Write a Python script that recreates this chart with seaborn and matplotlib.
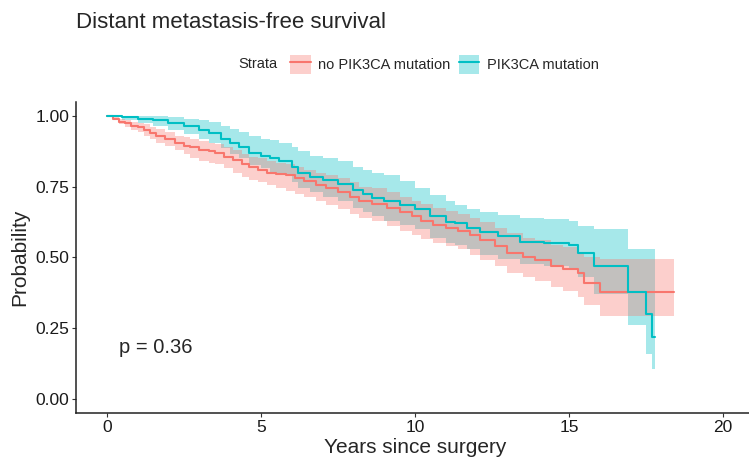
import matplotlib
matplotlib.use("Agg")
import matplotlib.pyplot as plt
import numpy as np
import pandas as pd
import seaborn as sns
from matplotlib.lines import Line2D
from matplotlib.patches import Patch

# no PIK3CA mutation (step curve + 95% CI)
red_time = [0, 0.2, 0.4, 0.6, 0.8, 1.0, 1.2, 1.4, 1.6, 1.9, 2.2, 2.5, 2.7, 3.0, 3.3, 3.5, 3.8,
            4.1, 4.4, 4.6, 4.9, 5.2, 5.5, 5.8, 6.1, 6.4, 6.8, 7.1, 7.5, 7.9, 8.2, 8.6, 9.1, 9.5,
            9.9, 10.2, 10.6, 11.0, 11.4, 11.8, 12.1, 12.6, 13.0, 13.5, 13.9, 14.4, 14.8, 15.3,
            15.5, 16.0, 18.4]
red_surv = [1.0, 0.99, 0.98, 0.975, 0.965, 0.96, 0.95, 0.94, 0.93, 0.92, 0.905, 0.895, 0.89,
            0.88, 0.875, 0.87, 0.855, 0.845, 0.83, 0.82, 0.81, 0.80, 0.795, 0.79, 0.78, 0.77,
            0.755, 0.745, 0.73, 0.715, 0.70, 0.69, 0.675, 0.66, 0.645, 0.63, 0.615, 0.605, 0.595,
            0.58, 0.56, 0.54, 0.515, 0.50, 0.49, 0.47, 0.46, 0.445, 0.41, 0.378, 0.378]
red_low = [1.0, 0.985, 0.97, 0.96, 0.95, 0.945, 0.93, 0.92, 0.905, 0.895, 0.88, 0.865, 0.85,
           0.84, 0.835, 0.83, 0.815, 0.80, 0.785, 0.775, 0.765, 0.755, 0.745, 0.735, 0.725,
           0.715, 0.70, 0.685, 0.67, 0.655, 0.64, 0.63, 0.61, 0.595, 0.58, 0.565, 0.55, 0.54,
           0.53, 0.51, 0.49, 0.47, 0.445, 0.43, 0.415, 0.395, 0.38, 0.36, 0.33, 0.293, 0.293]
red_up = [1.0, 0.995, 0.99, 0.985, 0.98, 0.975, 0.97, 0.96, 0.955, 0.945, 0.93, 0.925, 0.92,
          0.91, 0.905, 0.90, 0.89, 0.88, 0.865, 0.855, 0.85, 0.84, 0.835, 0.83, 0.82, 0.81, 0.80,
          0.79, 0.78, 0.765, 0.75, 0.745, 0.73, 0.715, 0.70, 0.69, 0.675, 0.665, 0.655, 0.64,
          0.625, 0.605, 0.585, 0.57, 0.56, 0.545, 0.535, 0.52, 0.50, 0.495, 0.495]

# PIK3CA mutation
teal_time = [0, 0.5, 1.0, 1.5, 2.0, 2.5, 3.0, 3.3, 3.7, 4.0, 4.3, 4.6, 5.0, 5.3, 5.6, 6.0, 6.2,
             6.6, 7.0, 7.5, 8.0, 8.3, 8.6, 9.0, 9.5, 10.0, 10.5, 11.0, 11.3, 11.7, 12.1, 12.7,
             13.4, 14.2, 15.0, 15.3, 15.8, 16.9, 17.5, 17.7, 17.8]
teal_surv = [1.0, 0.995, 0.99, 0.985, 0.975, 0.965, 0.95, 0.94, 0.92, 0.905, 0.89, 0.87, 0.86,
             0.85, 0.84, 0.82, 0.80, 0.785, 0.775, 0.76, 0.74, 0.725, 0.71, 0.70, 0.685, 0.67,
             0.645, 0.625, 0.62, 0.605, 0.59, 0.575, 0.555, 0.55, 0.545, 0.515, 0.47, 0.378,
             0.30, 0.22, 0.22]
teal_low = [1.0, 0.985, 0.975, 0.965, 0.95, 0.935, 0.92, 0.905, 0.885, 0.865, 0.85, 0.825,
            0.815, 0.80, 0.79, 0.765, 0.745, 0.73, 0.715, 0.70, 0.675, 0.66, 0.645, 0.63, 0.615,
            0.60, 0.57, 0.55, 0.545, 0.53, 0.51, 0.495, 0.475, 0.47, 0.46, 0.43, 0.37, 0.26,
            0.16, 0.106, 0.106]
teal_up = [1.0, 1.0, 1.0, 1.0, 0.995, 0.99, 0.985, 0.98, 0.965, 0.955, 0.945, 0.93, 0.92,
           0.915, 0.905, 0.89, 0.875, 0.86, 0.85, 0.84, 0.82, 0.81, 0.80, 0.79, 0.77, 0.745,
           0.72, 0.70, 0.685, 0.67, 0.66, 0.65, 0.64, 0.635, 0.63, 0.61, 0.60, 0.53, 0.53,
           0.53, 0.53]

strata = ["no PIK3CA mutation", "PIK3CA mutation"]
colors = ["#F8766D", "#00BFC4"]

df = pd.concat([
    pd.DataFrame({"time": red_time, "surv": red_surv, "low": red_low, "up": red_up,
                  "strata": strata[0]}),
    pd.DataFrame({"time": teal_time, "surv": teal_surv, "low": teal_low, "up": teal_up,
                  "strata": strata[1]}),
], ignore_index=True)

sns.set_style("ticks")
plt.rcParams["font.family"] = ["Liberation Sans", "DejaVu Sans"]

fig = plt.figure(figsize=(7.49, 4.65), dpi=100)
ax = fig.add_axes([0.1015, 0.112, 0.905, 0.669])

palette = dict(zip(strata, colors))
for name, sub in df.groupby("strata"):
    ax.fill_between(sub["time"], sub["low"], sub["up"], step="post",
                    color=palette[name], alpha=0.35, linewidth=0)

sns.lineplot(data=df, x="time", y="surv", hue="strata", palette=palette,
             estimator=None, drawstyle="steps-post", linewidth=1.5, ax=ax, legend=False)

ax.set_xlim(-1, 21)
ax.set_ylim(-0.05, 1.05)
ax.set_xticks([0, 5, 10, 15, 20])
ax.set_yticks([0, 0.25, 0.5, 0.75, 1.0])
ax.set_yticklabels(["0.00", "0.25", "0.50", "0.75", "1.00"])
ax.tick_params(labelsize=12.5, length=3, color="#333333", labelcolor="#1a1a1a", pad=2)
sns.despine(ax=ax)
for s in ["left", "bottom"]:
    ax.spines[s].set_color("#222222")
    ax.spines[s].set_linewidth(1.1)

ax.set_xlabel("Years since surgery", fontsize=15, labelpad=2)
ax.set_ylabel("Probability", fontsize=15, labelpad=4)
ax.text(0.4, 0.18, "p = 0.36", fontsize=14.5, va="center", ha="left")

fig.text(0.102, 0.952, "Distant metastasis-free survival", fontsize=16, va="center")

handles = [(Patch(facecolor=c, alpha=0.35, linewidth=0), Line2D([], [], color=c, lw=1.5))
           for c in colors]
fig.text(0.318, 0.862, "Strata", fontsize=10.5, va="center")
fig.legend(handles, strata, loc="center left", bbox_to_anchor=(0.37, 0.862), ncol=2,
           frameon=False, fontsize=10.5, handlelength=1.4, handleheight=1.6,
           columnspacing=0.6, handletextpad=0.5)

fig.savefig("out.png", dpi=100)
